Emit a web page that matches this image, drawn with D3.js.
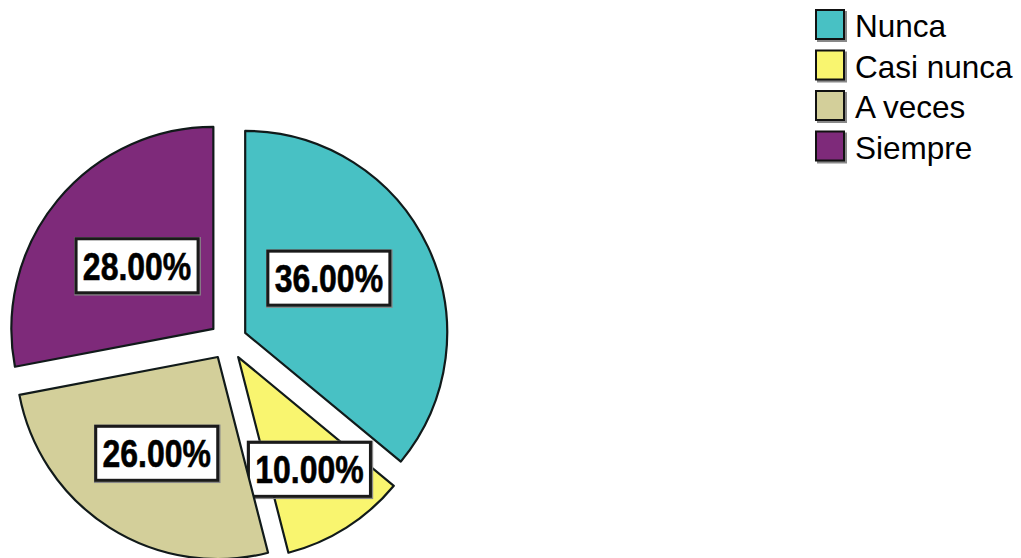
<!DOCTYPE html>
<html>
<head>
<meta charset="utf-8">
<script src="https://cdn.jsdelivr.net/npm/d3@7"></script>
<style>
  body { margin: 0; background: #fff; }
  svg { display: block; }
</style>
</head>
<body>
<svg id="chart" width="1021" height="558"></svg>
<script>
var categories = ['Nunca', 'Casi nunca', 'A veces', 'Siempre'];
var values = [36, 10, 26, 28];
var colors = ['#48c1c4', '#f9f56f', '#d3cf9a', '#7e2a7a'];

var svg = d3.select('#chart');
var width = +svg.attr('width');
var height = +svg.attr('height');

var radius = 202;
var explode = 19;
var g = svg.append('g')
	.attr('transform', 'translate(228, 341)');   // pie centre

var pie = d3.pie().sort(null).value(function(d) { return d; });
var arcs = pie(values);
var arc = d3.arc().innerRadius(0).outerRadius(radius);

function dir(a) {
	return [Math.sin(a), -Math.cos(a)];
}

var slices = g.selectAll('g.slice')
	.data(arcs)
	.enter().append('g')
		.attr('class', 'slice')
		.attr('transform', function(d) {
			var m = dir((d.startAngle + d.endAngle) / 2);
			return 'translate(' + m[0] * explode + ',' + m[1] * explode + ')';
		});

slices.append('path')
	.attr('d', arc)
	.attr('fill', function(d, i) { return colors[i]; })
	.attr('stroke', '#111a1a')
	.attr('stroke-width', 2.2)
	.attr('stroke-linejoin', 'round');

// label placement: distance from slice tip and small angle tweak (degrees)
var labelDist = [100, 133, 114, 99];
var labelTurn = [-8, 0, 0, 0];
var boxW = 122, boxH = 54;

var labels = slices.append('g')
	.attr('transform', function(d, i) {
		var m = dir((d.startAngle + d.endAngle) / 2 + labelTurn[i] * Math.PI / 180);
		var r = labelDist[i];
		return 'translate(' + m[0] * r + ',' + m[1] * r + ')';
	});

labels.append('rect')
	.attr('x', -boxW / 2 - 1)
	.attr('y', -boxH / 2 - 1)
	.attr('width', boxW + 3)
	.attr('height', boxH + 3)
	.attr('fill', 'none')
	.attr('stroke', '#888')
	.attr('stroke-width', 1.5);

labels.append('rect')
	.attr('x', -boxW / 2)
	.attr('y', -boxH / 2)
	.attr('width', boxW)
	.attr('height', boxH)
	.attr('fill', '#fff')
	.attr('stroke', '#1a1a1a')
	.attr('stroke-width', 3);

labels.append('text')
	.attr('text-anchor', 'middle')
	.attr('dy', '0.36em')
	.attr('transform', 'scale(0.82,1)')
	.attr('font-family', '"Liberation Sans", Arial, sans-serif')
	.attr('font-weight', 'bold')
	.attr('font-size', 39)
	.attr('stroke', '#000')
	.attr('stroke-width', 0.6)
	.attr('fill', '#000')
	.text(function(d) { return d.value.toFixed(2) + '%'; });

// legend
var legend = svg.append('g')
	.attr('transform', 'translate(815, 9)');

var item = legend.selectAll('g')
	.data(categories)
	.enter().append('g')
		.attr('transform', function(d, i) { return 'translate(0,' + i * 40.5 + ')'; });

item.append('rect')
	.attr('x', 2).attr('y', 2)
	.attr('width', 30).attr('height', 31)
	.attr('fill', '#888');

item.append('rect')
	.attr('x', 1).attr('y', 1)
	.attr('width', 28).attr('height', 29)
	.attr('fill', function(d, i) { return colors[i]; })
	.attr('stroke', '#111')
	.attr('stroke-width', 2);

item.append('text')
	.attr('x', 40)
	.attr('y', 28)
	.attr('font-family', '"Liberation Sans", Arial, sans-serif')
	.attr('font-size', 31.5)
	.attr('fill', '#000')
	.text(function(d) { return d; });
</script>
</body>
</html>
